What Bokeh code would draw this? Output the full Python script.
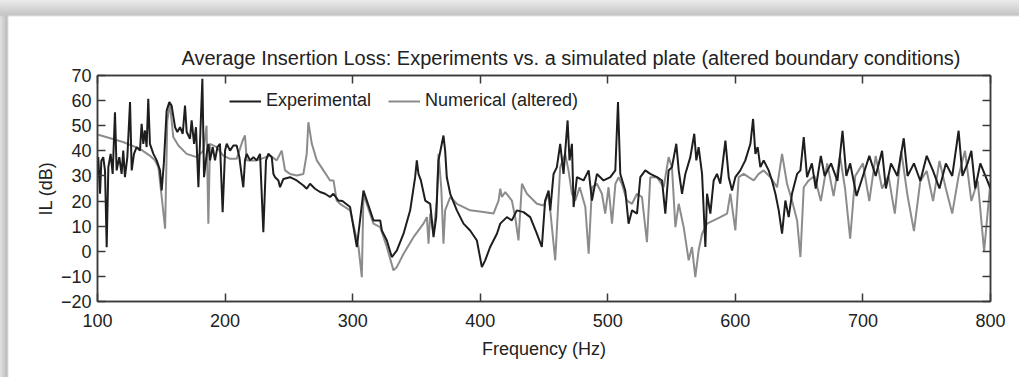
from bokeh.plotting import figure
from bokeh.layouts import column
from bokeh.models import LinearAxis, FixedTicker, Range1d
from bokeh.embed import file_html
from bokeh.resources import INLINE

# Experimental (dark) series: frequency (Hz) and insertion loss (dB)
exp_freq = [100, 100.6, 102, 103, 104.5, 105.9, 107.2, 108.5, 110.3, 111.9, 113.7, 115, 117.1, 118.9, 120.2, 121.5,
            123.4, 125.5, 126.8, 128.6, 130.7, 133.3, 134.6, 135.9, 137.2, 138.5, 139.8, 141.1, 143.8, 146.4, 149,
            150.3, 152, 154.2, 156.3, 158.1, 160.8, 162.6, 164.7, 166.8, 168.6, 169.9, 172.5, 173.8, 175.7, 177.2,
            179.1, 180.4, 182.2, 183.5, 185.6, 186.9, 188.2, 190.3, 192.1, 194, 196, 198.1, 200, 201.3, 203.9, 206.5,
            209.1, 211.2, 213, 214.3, 215.6, 217, 219.6, 222.2, 224.8, 227.4, 230, 232.1, 233.9, 236.6, 237.9, 239.2,
            241.8, 243.1, 245.7, 250.9, 256.2, 261.4, 264, 266.6, 270.5, 274.5, 278.4, 282.3, 284.9, 288.8,
            292, 298, 303.3, 308.5, 311.1, 316.3, 321.6, 322.9, 326.8, 330.7, 334.6, 339.9, 345.1, 349, 350.3, 351.6,
            353.5, 356.9, 360.8, 363.4, 365.5, 367.3, 369.9, 371.2, 372.5, 373.8, 376.5, 381.7, 386.9, 392.1, 397.4,
            401.3, 403.9, 407.8, 413.1, 415.7, 420.9, 424.8, 428.7, 434, 439.2, 444.4, 448.3, 450.9, 453.6, 454.9,
            457.5, 460.1, 462.7, 465.3, 468.5, 470, 471.9, 473.2, 475.8, 481, 485, 487.6, 491.5, 496.7, 502, 505.9,
            508, 509.8, 513.7, 516.3, 519, 522.9, 525.5, 529.4, 533.3, 538.6, 542.5, 545.1, 547.7, 550.3, 553.7,
            555.6, 558.2, 560.8, 564.7, 567.8, 569.4, 571.2, 573.9, 576.5, 577.8, 580.4, 583, 585.6, 588.2, 592.2,
            594.8, 597.4, 600, 603.9, 607.8, 611.8, 613.9, 615.7, 617.5, 619.6, 622.2, 626.1, 628.7, 631.4, 634,
            636.6, 639.2, 641.8, 644.4, 648.4, 651, 653.6, 656.2, 660, 663, 667, 670, 675, 680, 684, 687, 690, 695,
            700, 705, 710, 715, 718, 722, 727, 732, 735, 740, 745, 750, 755, 760, 765, 770, 775, 778, 782, 785, 788,
            792, 796, 800]
exp_il = [29.5, 37.5, 22.9, 36, 37.5, 32, 1.6, 33.5, 38.8, 30.8, 55.4, 32.2, 37.5, 30.8, 40.1, 29.5,
          37.5, 59.4, 32.2, 38.8, 41.5, 40.1, 50.8, 42.8, 48.1, 41.5, 60.7, 42.8, 38.8, 36.2, 32.2,
          24.2, 35, 56, 59.4, 58, 49.4, 47.5, 49.4, 46.8, 58, 47.5, 44.8, 52.1, 42.8, 49.4,
          25.5, 44.1, 68.7, 29.5, 38.8, 42.8, 36.2, 41.5, 36.2, 41.5, 42.8, 15.6, 40.1, 42.8, 40.1, 42.1,
          42.1, 37.5, 30.2, 25.5, 36.2, 38.8, 36.2, 37.5, 36.2, 38.8, 7.6, 36.2, 38.8, 37.5, 30.8, 29.5,
          28.2, 25.5, 28.8, 29.5, 28.2, 26.2, 24.9, 26.9, 24.9, 23.6, 22.9, 21.6, 22.9, 20.2,
          20, 17.6, 1.7, 24.2, 20.2, 12.3, 12.3, 8.3, 4.3, -2.3, 0.3, 7, 16.3, 29.5, 36.2, 30.8,
          28.2, 20.2, 18.9, 5.6, 13.6, 36.2, 42.8, 46.1, 40.1, 29.5, 22.9, 16.3, 11, 8.3, 4.3,
          -6.3, -3.6, 1.7, 7, 11, 13.6, 12.3, 16.3, 15.6, 13.6, 7, 1.7, 20.2, 24.2, 16.3,
          30.8, 33.5, 42.8, 30.8, 52.1, 36.2, 42.8, 17.6, 29.5, 28.2, 32.2, 20.2, 30.8, 28.2, 29.5, 32.2,
          59.4, 30.8, 24.2, 11, 16.3, 15, 29.5, 32.2, 30.8, 29.5, 28.2, 15, 32.2, 33.5, 42.8,
          32.2, 22.9, 30.8, 37.5, 46.8, 36.2, 41.5, 30.8, 1.7, 22.9, 15, 28.2, 30.8, 26.9, 44.1,
          29.5, 24.2, 29.5, 32.2, 36.2, 42.8, 52.7, 38.8, 41.5, 33.5, 36.2, 32.2, 28.2, 22.9, 16.3,
          7, 20.2, 13.6, 22.9, 30.8, 32.2, 45.5, 29.5, 35, 25, 38, 30, 35, 28, 48, 30, 35, 22,
          30, 38, 30, 40, 25, 35, 30, 45, 30, 35, 28, 38, 32, 25, 35, 30, 48, 30, 35, 40, 25,
          35, 30, 25]

# Numerical (altered) series (gray)
num_freq = [100, 110, 120, 133.3, 141, 145, 147.7, 149.5, 153, 154.7, 156.8, 159.4, 163.4, 169.9, 177.7, 183,
            185.5, 186.9, 188.2, 193.4, 198.6, 203.9, 209.1, 213.8, 215.6, 217, 224.8, 235.3, 240.5, 244.4, 247,
            250.9, 256.2, 261.4, 264, 265.3, 268, 271.9, 277.1, 282.3, 285, 287.5, 290.1,
            298, 304.6, 307.2, 308.5, 311.1, 316.3, 321.6, 326.8, 332, 334.6, 339.9, 347.7, 355.5, 358.2, 359.5,
            360.8, 363.4, 366, 367.3, 369.5, 371.2, 372.5, 376.5, 381.7, 392.1, 402.6, 410.4, 414.4, 415.7, 417,
            419.6, 424.8, 427.4, 430, 432.7, 436.6, 444.4, 449.6, 453.6, 458.8, 462.7, 466.6, 469.2, 471.9, 474.5,
            478, 482.4, 485, 487.6, 491.5, 495.4, 498, 500.6, 503.3, 506, 508.5, 511, 515, 519, 522.9, 526.8,
            530.7, 533.3, 538.6, 543.8, 547.7, 550.3, 553, 555.6, 559.5, 563.4, 566, 568.6, 571.2, 573.9, 577.8,
            583, 588.2, 593.5, 596.1, 600, 602.6, 606.5, 610.4, 614.4, 618.3, 622.2, 627.5, 632.7, 636.6, 640.5,
            644.4, 648.4, 651, 653.6, 657.5, 662, 667, 672, 677, 682, 686, 690, 694, 700, 705, 710, 715, 720, 725,
            730, 735, 740, 745, 750, 755, 760, 765, 770, 775, 780, 785, 790, 795, 800]
num_il = [46.5, 45, 43.5, 40.8, 38.1, 36.2, 33.5, 25.5, 9, 52, 58.7, 45.5, 42.1, 38.8, 37.5, 40,
          50, 11, 42.8, 41.5, 38.1, 36.8, 36.8, 44.1, 46.1, 36.2, 36.2, 38.1, 36.2, 40.1, 32.2,
          30.8, 30.2, 30.8, 38.8, 51.4, 42.8, 36.2, 32.2, 28.2, 28.2, 20.2, 18.9,
          16.3, 1.7, -10.3, 22.9, 18.9, 11, 9.6, 1.7, -7.6, -6.3, -1, 5.6, 11, 13.6, 3,
          15, 7, 20.2, 38.8, 25, 3, 16.3, 21.6, 18.9, 16.3, 15.6, 15, 20.2, 24.9, 21.6,
          23.6, 20.2, 13.6, 4.3, 26.9, 22.9, 18.9, 18.2, 22.9, -3.6, 33.5, 38.8, 32.2, 22.9, 20.2,
          25.5, 17.6, -1, 25.5, 26.9, 22.9, 15, 25.5, 11, 26.9, 29.5, 26.9, 20.2, 18.9, 22.9, 21.6,
          3.6, 29.5, 29.5, 25.5, 37.5, 33.5, 9.6, 18.9, 9.6, -3.6, 1.7, -10.3, 0.3, 7, 11,
          12.3, 13.6, 15, 22.9, 8.3, 29.5, 30.8, 29.5, 28.2, 30.8, 32.2, 29.5, 25.5, 38.8, 26.9,
          20.2, 12.3, -2.3, 25.5, 28.2, 30, 20, 35, 22, 38, 25, 5, 30, 35, 20, 38, 25, 30, 15,
          40, 22, 8, 28, 32, 20, 36, 25, 15, 30, 40, 20, 28, 0, 28]

x_ticks = [100, 200, 300, 400, 500, 600, 700, 800]
y_ticks = [-20, -10, 0, 10, 20, 30, 40, 50, 60, 70]

FONT = "Liberation Sans"
AX = "#3a3a3a"

fig = figure(width=1010, height=360, output_backend="svg", toolbar_location=None,
             x_range=Range1d(100, 800), y_range=Range1d(-20, 70),
             min_border_left=88, min_border_right=29, min_border_top=58, min_border_bottom=76,
             background_fill_color="white", border_fill_color="white")
fig.margin = (17, 0, 0, 9)
fig.grid.visible = False
fig.outline_line_color = AX
fig.outline_line_width = 1.5

fig.title.text = "Average Insertion Loss: Experiments vs. a simulated plate (altered boundary conditions)"
fig.title.text_font = FONT
fig.title.text_font_size = "20px"
fig.title.text_font_style = "normal"
fig.title.text_color = "#222222"
fig.title.align = "left"
fig.title.offset = 84
fig.title.standoff = 13

fig.line(num_freq, num_il, line_color="#8c8c8c", line_width=2, legend_label="Numerical (altered)")
fig.line(exp_freq, exp_il, line_color="#1e1e1e", line_width=2, legend_label="Experimental")

for ax in fig.xaxis + fig.yaxis:
    ax.major_tick_in = 8
    ax.major_tick_out = 0
    ax.minor_tick_line_color = None
    ax.axis_line_color = AX
    ax.axis_line_width = 1.5
    ax.major_tick_line_color = AX
    ax.major_tick_line_width = 1.5
    ax.major_label_text_font = FONT
    ax.major_label_text_font_size = "18px"
    ax.major_label_text_color = "#222222"
    ax.axis_label_text_font = FONT
    ax.axis_label_text_font_size = "18px"
    ax.axis_label_text_font_style = "normal"
    ax.axis_label_text_color = "#222222"

fig.xaxis.ticker = FixedTicker(ticks=x_ticks)
fig.yaxis.ticker = FixedTicker(ticks=y_ticks)
fig.yaxis.major_label_overrides = {t: ("\u2212" + str(-t) if t < 0 else str(t)) for t in y_ticks}
fig.xaxis.axis_label = "Frequency (Hz)"
fig.yaxis.axis_label = "IL (dB)"
fig.xaxis.major_label_standoff = 12
fig.xaxis.axis_label_standoff = 9
fig.yaxis.major_label_standoff = 6
fig.yaxis.axis_label_standoff = 2

top = LinearAxis(ticker=FixedTicker(ticks=x_ticks),
                 major_label_overrides={t: "" for t in x_ticks},
                 major_tick_in=8, major_tick_out=0, minor_tick_line_color=None,
                 axis_line_color=AX, axis_line_width=1.5, major_tick_line_color=AX, major_tick_line_width=1.5,
                 major_label_standoff=0)
right = LinearAxis(ticker=FixedTicker(ticks=y_ticks),
                   major_label_overrides={t: "" for t in y_ticks},
                   major_tick_in=8, major_tick_out=0, minor_tick_line_color=None,
                   axis_line_color=AX, axis_line_width=1.5, major_tick_line_color=AX, major_tick_line_width=1.5,
                   major_label_standoff=0)
fig.add_layout(top, "above")
fig.add_layout(right, "right")

leg = fig.legend[0]
items = list(leg.items)
leg.items = [items[1], items[0]]
leg.orientation = "horizontal"
leg.location = (132, 190)
leg.glyph_width = 32
leg.glyph_height = 20
leg.label_height = 20
leg.label_standoff = 5
leg.spacing = 17
leg.padding = 0
leg.margin = 0
leg.border_line_color = None
leg.background_fill_alpha = 0
leg.label_text_font = FONT
leg.label_text_font_size = "18px"
leg.label_text_color = "#222222"

p = column(fig, width=1019, height=377,
           styles={"background": "linear-gradient(to bottom, #ececec 0px, #c4c4c4 15px, rgba(0,0,0,0) 17px), "
                                 "linear-gradient(to right, #e2e2e2 0px, #bdbdbd 7px, #ffffff 9px)"})

open("out.html", "w").write(file_html(p, INLINE))
